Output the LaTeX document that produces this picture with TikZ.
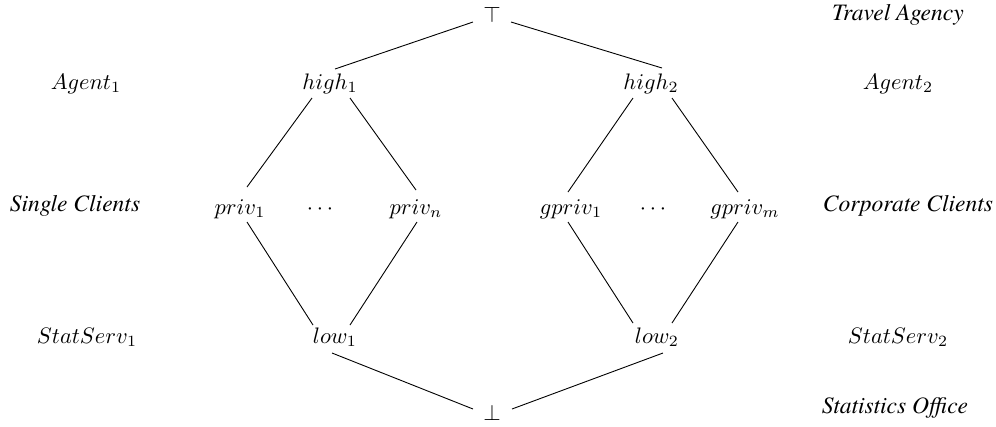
\documentclass[tikz,border=0pt]{standalone}
\usepackage[no-math]{fontspec}
\newfontfamily\labfont{texgyretermes-italic.otf}
\begin{document}
\begin{tikzpicture}[x=0.446pt,y=-0.446pt,
  el/.style={inner sep=0pt,anchor=base},
  lab/.style={inner sep=0pt,anchor=base,font=\labfont\fontsize{10.5}{12}\selectfont},
  edge/.style={line width=0.4pt}]
\useasboundingbox (0,0) rectangle (996,426);
% lattice nodes
\node[el] (top) at (492,22) {$\top$};
\node[el] (high1) at (330,89) {$high_1$};
\node[el] (high2) at (651,89) {$high_2$};
\node[el] (priv1) at (240,214) {$priv_1$};
\node[el] (dots1) at (320,214) {$\cdots$};
\node[el] (privn) at (416,214) {$priv_n$};
\node[el] (gpriv1) at (571,214) {$gpriv_1$};
\node[el] (dots2) at (653,214) {$\cdots$};
\node[el] (gprivm) at (745,214) {$gpriv_m$};
\node[el] (low1) at (335,343) {$low_1$};
\node[el] (low2) at (657,343) {$low_2$};
\node[el] (bot) at (492,420) {$\bot$};
% side labels
\node[lab] (ta) at (898,20) {Travel Agency};
\node[el] (ag1) at (86,89) {$Agent_1$};
\node[el] (ag2) at (898,89) {$Agent_2$};
\node[lab] (sc) at (75,211) {Single Clients};
\node[lab] (cc) at (908,211) {Corporate Clients};
\node[el] (ss1) at (87,343) {$StatServ_1$};
\node[el] (ss2) at (898,343) {$StatServ_2$};
\node[lab] (so) at (895,413) {Statistics Office};
% connectors
\draw[edge] ([shift={(-19,0)}]top.base) -- ([shift={(5,-20)}]high1.base);
\draw[edge] ([shift={(19,0)}]top.base) -- ([shift={(11,-21)}]high2.base);
\draw[edge] ([shift={(-18,9)}]high1.base) -- ([shift={(7,-27)}]priv1.base);
\draw[edge] ([shift={(20,9)}]high1.base) -- ([shift={(0,-24)}]privn.base);
\draw[edge] ([shift={(-18,9)}]high2.base) -- ([shift={(-3,-22)}]gpriv1.base);
\draw[edge] ([shift={(21,9)}]high2.base) -- ([shift={(-7,-22)}]gprivm.base);
\draw[edge] ([shift={(7,8)}]priv1.base) -- ([shift={(-22,-18)}]low1.base);
\draw[edge] ([shift={(1,8)}]privn.base) -- ([shift={(15,-18)}]low1.base);
\draw[edge] ([shift={(-3,8)}]gpriv1.base) -- ([shift={(-24,-20)}]low2.base);
\draw[edge] ([shift={(-7,8)}]gprivm.base) -- ([shift={(15,-20)}]low2.base);
\draw[edge] ([shift={(-3,10)}]low1.base) -- ([shift={(-19,-11)}]bot.base);
\draw[edge] ([shift={(6,10)}]low2.base) -- ([shift={(20,-11)}]bot.base);
\end{tikzpicture}
\end{document}
